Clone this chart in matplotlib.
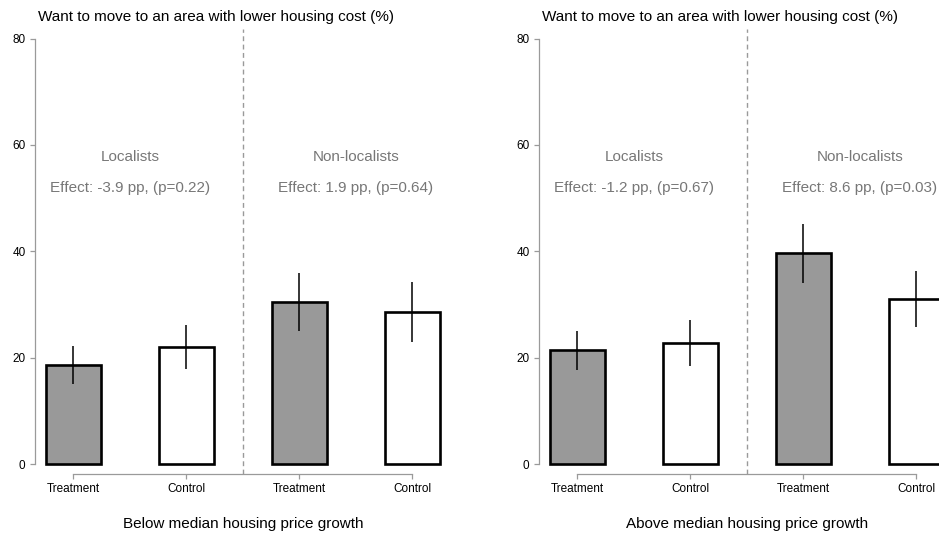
import matplotlib
matplotlib.use("Agg")
import matplotlib.pyplot as plt
import matplotlib.transforms as mtransforms

plt.rcParams["font.family"] = ["Liberation Sans", "DejaVu Sans"]

groups = ["Treatment", "Control", "Treatment", "Control"]
panel_xlabels = ["Below median housing price growth", "Above median housing price growth"]
ylab = "Want to move to an area with lower housing cost (%)"

# share wanting to move (%) and half-width of 95% CI
below_means = [18.6, 22.0, 30.5, 28.6]
below_ci = [3.6, 4.2, 5.5, 5.7]
above_means = [21.4, 22.8, 39.6, 31.0]
above_ci = [3.7, 4.3, 5.5, 5.3]

subgroups = ["Localists", "Non-localists"]
below_effects = ["Effect: -3.9 pp, (p=0.22)", "Effect: 1.9 pp, (p=0.64)"]
above_effects = ["Effect: -1.2 pp, (p=0.67)", "Effect: 8.6 pp, (p=0.03)"]

W, H = 939, 534
fig = plt.figure(figsize=(W / 100, H / 100), dpi=100)

fill = ["#999999", "white", "#999999", "white"]
xpos = [0, 1, 2, 3]
grey = "#9a9a9a"


def panel(left_px, means, ci, effects, xlabel):
    # axes in pixel space: top at 29px, bottom (x-axis line) at 474px
    ax = fig.add_axes([left_px / W, 60 / H, 434 / W, 445 / H])
    ax.bar(xpos, means, width=0.49, color=fill, edgecolor="black",
           linewidth=1.9, zorder=2)
    ax.errorbar(xpos, means, yerr=ci, fmt="none", ecolor="black",
                elinewidth=1.1, capsize=0, zorder=3)
    ax.set_xlim(-0.34, 3.5)
    ax.set_ylim(-1.88, 81.8)
    ax.axvline(1.5, color=grey, linestyle=(0, (3.5, 2.5)), linewidth=1.0, zorder=1)

    for s in ["top", "right"]:
        ax.spines[s].set_visible(False)
    ax.spines["left"].set_bounds(0, 80)
    ax.spines["bottom"].set_bounds(0, 3)
    for s in ["left", "bottom"]:
        ax.spines[s].set_color(grey)
        ax.spines[s].set_linewidth(0.9)

    ax.set_yticks([0, 20, 40, 60, 80])
    ax.set_xticks(xpos)
    ax.set_xticklabels(groups)
    ax.tick_params(axis="both", length=3.8, width=0.9, color=grey,
                   labelsize=8.5, pad=3)

    for i, name in enumerate(subgroups):
        cx = 0.5 + 2 * i
        ax.text(cx, 57.8, name, ha="center", va="center", fontsize=11, color="#777777")
        ax.text(cx, 51.9, effects[i], ha="center", va="center", fontsize=11, color="#777777")

    trans = mtransforms.blended_transform_factory(ax.transData, ax.transAxes)
    ax.text(1.5, -50 / 445, xlabel, transform=trans, ha="center", va="center", fontsize=11)
    fig.text((left_px + 3) / W, 1 - 17 / H, ylab, ha="left", va="center", fontsize=11)
    return ax


panel(35, below_means, below_ci, below_effects, panel_xlabels[0])
panel(539, above_means, above_ci, above_effects, panel_xlabels[1])

fig.savefig("out.png", dpi=100)
